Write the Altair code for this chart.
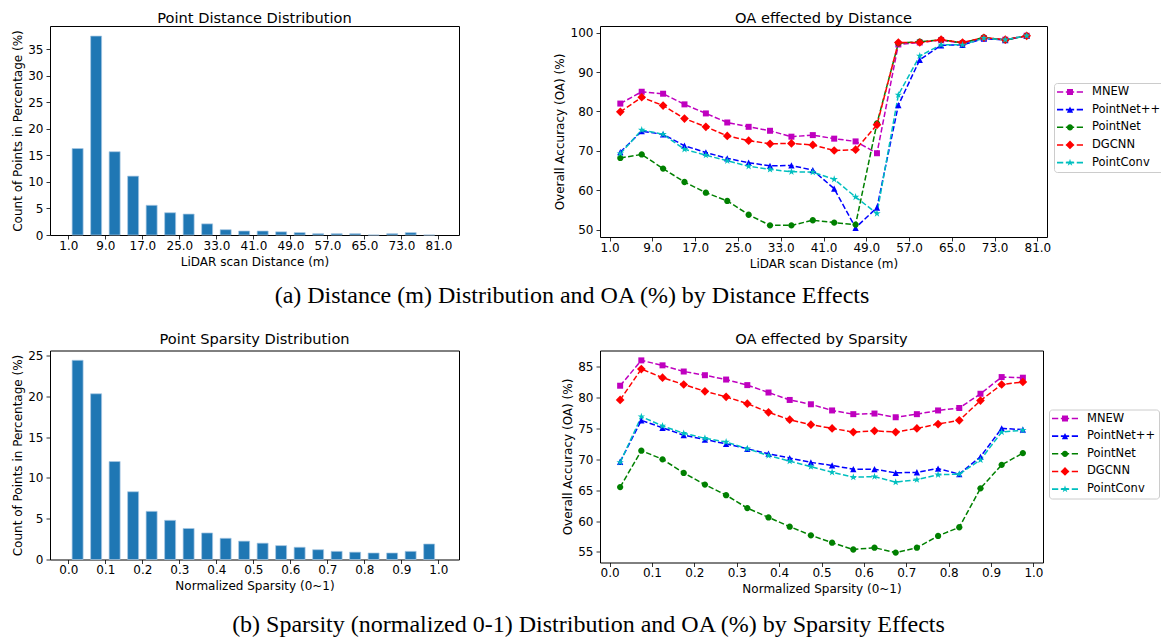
import altair as alt
import pandas as pd

# ---------------- data ----------------
dist_centers = [3, 7, 11, 15, 19, 23, 27, 31, 35, 39, 43, 47, 51, 55, 59, 63, 67, 71, 75, 79]
dist_pct = [16.3, 37.5, 15.7, 11.1, 5.6, 4.2, 3.95, 2.1, 1.0, 0.75, 0.75, 0.6, 0.45, 0.25,
            0.25, 0.25, 0.0, 0.25, 0.45, 0.0]
dist_ticks = [1, 9, 17, 25, 33, 41, 49, 57, 65, 73, 81]

spars_centers = [0.025, 0.075, 0.125, 0.175, 0.225, 0.275, 0.325, 0.375, 0.425, 0.475,
                 0.525, 0.575, 0.625, 0.675, 0.725, 0.775, 0.825, 0.875, 0.925, 0.975]
spars_pct = [24.4, 20.3, 12.0, 8.3, 5.9, 4.8, 3.8, 3.25, 2.6, 2.25, 2.0, 1.7, 1.5, 1.2,
             1.0, 0.9, 0.8, 0.8, 1.0, 1.9]
spars_ticks = [0.0, 0.1, 0.2, 0.3, 0.4, 0.5, 0.6, 0.7, 0.8, 0.9, 1.0]

models = ["MNEW", "PointNet++", "PointNet", "DGCNN", "PointConv"]
model_colors = ["#bf00bf", "#0000ff", "#008000", "#ff0000", "#00bfbf"]

oa_dist_mnew = [82.0, 85.0, 84.5, 81.8, 79.5, 77.2, 76.1, 75.1, 73.6, 74.0, 73.1, 72.4, 69.4,
                97.0, 97.5, 98.1, 97.3, 98.6, 98.2, 99.2]
oa_dist_pointnet2 = [69.7, 75.0, 74.2, 71.3, 69.6, 68.1, 67.0, 66.2, 66.3, 65.1, 60.4, 50.5, 55.6,
                     81.6, 93.1, 96.8, 96.9, 98.5, 98.1, 99.2]
oa_dist_pointnet = [68.2, 69.1, 65.5, 62.1, 59.4, 57.3, 53.8, 51.1, 51.1, 52.4, 51.8, 51.3, 77.0,
                    97.3, 97.7, 98.2, 97.4, 98.8, 98.1, 99.2]
oa_dist_dgcnn = [79.9, 83.6, 81.5, 78.2, 76.1, 73.8, 72.6, 71.8, 71.9, 71.5, 70.1, 70.3, 76.6,
                 97.5, 97.5, 98.2, 97.5, 98.7, 98.2, 99.2]
oa_dist_pointconv = [69.3, 75.3, 74.2, 70.4, 68.9, 67.5, 66.1, 65.3, 64.7, 64.6, 62.8, 58.3, 54.1,
                     84.2, 94.1, 96.9, 96.9, 98.6, 98.2, 99.2]

oa_spars_mnew = [81.9, 86.0, 85.2, 84.2, 83.6, 82.9, 82.0, 80.8, 79.6, 78.9, 77.9, 77.3, 77.4,
                 76.8, 77.3, 77.9, 78.3, 80.6, 83.3, 83.2]
oa_spars_pointnet2 = [69.6, 76.3, 75.1, 73.9, 73.2, 72.5, 71.7, 70.9, 70.2, 69.5, 69.0, 68.4, 68.4,
                      67.8, 67.9, 68.5, 67.6, 70.4, 75.0, 74.8]
oa_spars_pointnet = [65.5, 71.4, 70.0, 67.8, 65.9, 64.2, 62.1, 60.6, 59.1, 57.7, 56.5, 55.4, 55.7,
                     54.9, 55.7, 57.6, 59.0, 65.3, 69.1, 71.0]
oa_spars_dgcnn = [79.6, 84.6, 83.2, 82.1, 81.0, 80.1, 79.0, 77.6, 76.4, 75.6, 75.0, 74.4, 74.6,
                  74.4, 75.0, 75.7, 76.3, 79.5, 82.1, 82.5]
oa_spars_pointconv = [69.5, 76.9, 75.4, 74.2, 73.4, 72.8, 71.7, 70.6, 69.7, 68.8, 67.9, 67.1, 67.2,
                      66.3, 66.7, 67.5, 67.6, 69.9, 74.4, 74.7]

titles = ["Point Distance Distribution", "OA effected by Distance",
          "Point Sparsity Distribution", "OA effected by Sparsity"]
x_titles = ["LiDAR scan Distance (m)", "Normalized Sparsity (0~1)"]
y_titles = ["Count of Points in Percentage (%)", "Overall Accuracy (OA) (%)"]
caption_a = "(a) Distance (m) Distribution and OA (%) by Distance Effects"
caption_b = "(b) Sparsity (normalized 0-1) Distribution and OA (%) by Sparsity Effects"

# ---------------- styling helpers ----------------
FONT = "DejaVu Sans"
BAR_COLOR = "#1f77b4"


def poly(pts, s):
    return "M" + "L".join(f"{x * s:.4f},{y * s:.4f}" for x, y in pts) + "Z"


def circle(r):
    return f"M{r:.4f},0A{r:.4f},{r:.4f} 0 1,1 {-r:.4f},0A{r:.4f},{r:.4f} 0 1,1 {r:.4f},0Z"


star_pts = [(0, -1), (0.2245, -0.309), (0.951, -0.309), (0.363, 0.118), (0.588, 0.809),
            (0, 0.382), (-0.588, 0.809), (-0.363, 0.118), (-0.951, -0.309), (-0.2245, -0.309)]
marker_shapes = {
    "MNEW": ("poly", [(-1, -1), (1, -1), (1, 1), (-1, 1)], 1.0),
    "PointNet++": ("poly", [(0, -1), (1, 1), (-1, 1)], 1.05),
    "PointNet": ("circle", None, 1.05),
    "DGCNN": ("poly", [(0, -1), (1, 0), (0, 1), (-1, 0)], 1.45),
    "PointConv": ("poly", star_pts, 1.3),
}


def marker_path(m, s):
    kind, pts, k = marker_shapes[m]
    if kind == "circle":
        return circle(k * s)
    return poly(pts, k * s)


MARK_SIZE = 36        # 6 px wide marker (path units -> 3 px)
LEG_SIZE = 676        # 26 px wide legend symbol (path units -> 13 px)
leg_scale = 3.0 / 13.0
dash_half = 0.06


def legend_path(m):
    segs = [(-1, -0.52), (-0.32, 0.32), (0.52, 1)]
    d = "".join(
        f"M{a},{-dash_half}L{b},{-dash_half}L{b},{dash_half}L{a},{dash_half}Z" for a, b in segs
    )
    return d + marker_path(m, leg_scale)


chart_paths = [marker_path(m, 1.0) for m in models]
legend_paths = [legend_path(m) for m in models]


def title_mark(t, w, gap):
    return alt.Chart(pd.DataFrame({"t": [t]})).mark_text(
        font=FONT, fontSize=14.6, align="center", baseline="alphabetic", color="black"
    ).encode(text="t:N", x=alt.value(w / 2), y=alt.value(-gap))


def bar_panel(centers, pct, xdom, ydom, xticks, yticks, title, xtitle, w, h, gap,
              caption, cap_x, cap_y):
    df = pd.DataFrame({"x": centers, "pct": pct})
    bars = alt.Chart(df).mark_bar(size=11, color=BAR_COLOR, stroke="#a9c9e4",
                                  strokeWidth=0.7).encode(
        x=alt.X("x:Q", scale=alt.Scale(domain=xdom, nice=False, zero=False),
                axis=alt.Axis(values=xticks, format=".1f", title=xtitle)),
        y=alt.Y("pct:Q", scale=alt.Scale(domain=ydom, nice=False),
                axis=alt.Axis(values=yticks, title=y_titles[0])),
    )
    cap = alt.Chart(pd.DataFrame({"t": [caption]})).mark_text(
        font="Liberation Serif", fontSize=24, align="center", baseline="middle",
        color="black").encode(text="t:N", x=alt.value(cap_x), y=alt.value(cap_y))
    return alt.layer(bars, cap, title_mark(title, w, gap)).properties(width=w, height=h)


def line_panel(xs, series, xdom, ydom, xticks, yticks, title, xtitle, w, h, gap, lx, ly):
    rows = []
    for m, vals in zip(models, series):
        for x, v in zip(xs, vals):
            rows.append({"x": x, "oa": v, "model": m})
    df = pd.DataFrame(rows)
    base = alt.Chart(df).encode(
        x=alt.X("x:Q", scale=alt.Scale(domain=xdom, nice=False, zero=False),
                axis=alt.Axis(values=xticks, format=".1f", title=xtitle)),
        y=alt.Y("oa:Q", scale=alt.Scale(domain=ydom, nice=False, zero=False),
                axis=alt.Axis(values=yticks, title=y_titles[1])),
    )
    cscale = alt.Scale(domain=models, range=model_colors)
    lines = base.mark_line(strokeDash=[5.5, 2.4], strokeWidth=1.5).encode(
        color=alt.Color("model:N", scale=cscale, legend=None))
    pts = base.mark_point(filled=True, size=MARK_SIZE, strokeWidth=0, opacity=1).encode(
        color=alt.Color("model:N", scale=cscale, legend=None),
        shape=alt.Shape("model:N", scale=alt.Scale(domain=models, range=chart_paths),
                        legend=None))
    leg = alt.Legend(title=None, orient="none", legendX=lx, legendY=ly, symbolSize=LEG_SIZE,
                     symbolStrokeWidth=0, symbolOpacity=1, labelFont=FONT, labelFontSize=11.5,
                     labelColor="black", fillColor="white", strokeColor="#cccccc",
                     cornerRadius=3, padding=3, rowPadding=5.65, clipHeight=12,
                     labelOffset=9)
    legend_layer = base.transform_filter("false").mark_point(
        filled=True, size=LEG_SIZE, opacity=1).encode(
        color=alt.Color("model:N", scale=cscale, legend=leg),
        shape=alt.Shape("model:N", scale=alt.Scale(domain=models, range=legend_paths),
                        legend=leg))
    return alt.layer(lines, pts, legend_layer, title_mark(title, w, gap)).resolve_scale(
        color="independent", shape="independent").properties(width=w, height=h)


p1 = bar_panel(dist_centers, dist_pct, [-1.89, 84.36], [0, 39.4], dist_ticks,
               [0, 5, 10, 15, 20, 25, 30, 35], titles[0], x_titles[0], 409, 209, 3.5,
               caption_a, 522, 269.5)
p2 = line_panel(dist_centers,
                [oa_dist_mnew, oa_dist_pointnet2, oa_dist_pointnet, oa_dist_dgcnn,
                 oa_dist_pointconv],
                [-0.8, 82.8], [48.15, 101.68], dist_ticks, [50, 60, 70, 80, 90, 100],
                titles[1], x_titles[0], 447, 211, 3.5, 454, 57)
p3 = bar_panel(spars_centers, spars_pct, [-0.0361, 1.0422], [0, 25.6], spars_ticks,
               [0, 5, 10, 15, 20, 25], titles[2], x_titles[1], 409, 209, 6.5,
               caption_b, 538.5, 274)
p4 = line_panel(spars_centers,
                [oa_spars_mnew, oa_spars_pointnet2, oa_spars_pointnet, oa_spars_dgcnn,
                 oa_spars_pointconv],
                [-0.0225, 1.0225], [53.3, 87.6], spars_ticks, [55, 60, 65, 70, 75, 80, 85],
                titles[3], x_titles[1], 443, 212, 6.5, 449, 59)

chart = alt.concat(p1, p2, p3, p4, columns=2, spacing={"row": 113.5, "column": 141},
                   bounds="flush", align="each").properties(
    padding={"left": 2, "top": 2, "right": -4, "bottom": 0},
    background="white",
).configure_view(
    stroke="black", strokeWidth=1
).configure_axis(
    labelFont=FONT, labelFontSize=12, labelColor="black", labelFlush=False,
    titleFont=FONT, titleFontSize=12, titleFontWeight="normal", titleColor="black",
    tickColor="black", tickSize=4, tickWidth=0.8, domain=False, grid=False,
).configure_axisX(
    labelPadding=1, titlePadding=5
).configure_axisY(
    labelPadding=3, titlePadding=3.5
)

chart.save("out.html", embed_options={"renderer": "svg", "actions": False})
